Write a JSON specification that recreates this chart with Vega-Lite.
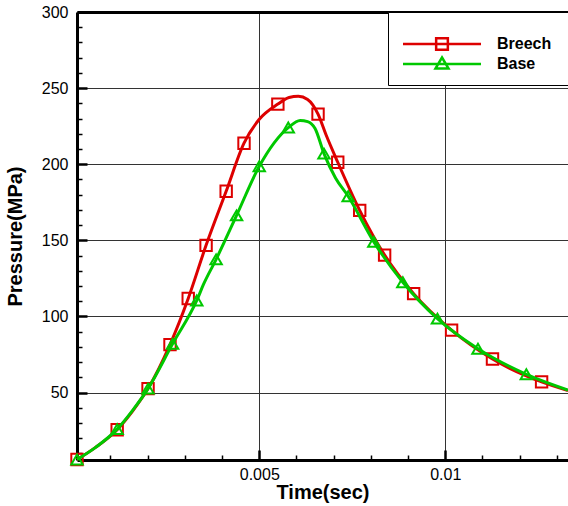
{
  "$schema": "https://vega.github.io/schema/vega-lite/v6.json",
  "width": 491,
  "height": 448,
  "autosize": {"type": "none"},
  "padding": {"left": 77, "top": 12, "right": 0, "bottom": 46},
  "background": "white",
  "config": {"view": {"stroke": null}, "font": "Liberation Sans"},
  "datasets": {
    "curves": [
      {"series": "Breech", "t": 0.0001, "P": 6},
      {"series": "Breech", "t": 0.0006, "P": 14},
      {"series": "Breech", "t": 0.00118, "P": 25.6},
      {"series": "Breech", "t": 0.0016, "P": 38},
      {"series": "Breech", "t": 0.00201, "P": 52.6},
      {"series": "Breech", "t": 0.0026, "P": 81.5},
      {"series": "Breech", "t": 0.00309, "P": 111.8},
      {"series": "Breech", "t": 0.00357, "P": 146.7},
      {"series": "Breech", "t": 0.00411, "P": 182.2},
      {"series": "Breech", "t": 0.00459, "P": 213.8},
      {"series": "Breech", "t": 0.005, "P": 229.5},
      {"series": "Breech", "t": 0.0055, "P": 239.5},
      {"series": "Breech", "t": 0.0058, "P": 243.8},
      {"series": "Breech", "t": 0.00605, "P": 244.6},
      {"series": "Breech", "t": 0.0063, "P": 242.5},
      {"series": "Breech", "t": 0.00658, "P": 232.9},
      {"series": "Breech", "t": 0.0068, "P": 219},
      {"series": "Breech", "t": 0.00711, "P": 201.3},
      {"series": "Breech", "t": 0.0077, "P": 169.7},
      {"series": "Breech", "t": 0.00837, "P": 140.3},
      {"series": "Breech", "t": 0.00915, "P": 115},
      {"series": "Breech", "t": 0.01017, "P": 91},
      {"series": "Breech", "t": 0.01127, "P": 72},
      {"series": "Breech", "t": 0.01259, "P": 57},
      {"series": "Breech", "t": 0.0133, "P": 51.3},
      {"series": "Base", "t": 0.0001, "P": 6},
      {"series": "Base", "t": 0.0006, "P": 14},
      {"series": "Base", "t": 0.00118, "P": 26},
      {"series": "Base", "t": 0.0016, "P": 38.5},
      {"series": "Base", "t": 0.00201, "P": 52.6},
      {"series": "Base", "t": 0.00267, "P": 82},
      {"series": "Base", "t": 0.00332, "P": 110.5},
      {"series": "Base", "t": 0.0035, "P": 121},
      {"series": "Base", "t": 0.00384, "P": 137.5},
      {"series": "Base", "t": 0.00439, "P": 166.4},
      {"series": "Base", "t": 0.005, "P": 198.7},
      {"series": "Base", "t": 0.00578, "P": 224.1},
      {"series": "Base", "t": 0.0061, "P": 228.8},
      {"series": "Base", "t": 0.0063, "P": 228},
      {"series": "Base", "t": 0.0065, "P": 223.5},
      {"series": "Base", "t": 0.00674, "P": 207},
      {"series": "Base", "t": 0.00705, "P": 191},
      {"series": "Base", "t": 0.00739, "P": 179},
      {"series": "Base", "t": 0.00808, "P": 149},
      {"series": "Base", "t": 0.00886, "P": 122.5},
      {"series": "Base", "t": 0.00979, "P": 98.6},
      {"series": "Base", "t": 0.01088, "P": 78.8},
      {"series": "Base", "t": 0.01218, "P": 62},
      {"series": "Base", "t": 0.0133, "P": 51.7}
    ],
    "markers": [
      {"series": "Breech", "t": 0.0001, "P": 6},
      {"series": "Breech", "t": 0.00118, "P": 25.6},
      {"series": "Breech", "t": 0.00201, "P": 52.6},
      {"series": "Breech", "t": 0.0026, "P": 81.5},
      {"series": "Breech", "t": 0.00309, "P": 111.8},
      {"series": "Breech", "t": 0.00357, "P": 146.7},
      {"series": "Breech", "t": 0.00411, "P": 182.2},
      {"series": "Breech", "t": 0.00459, "P": 213.8},
      {"series": "Breech", "t": 0.0055, "P": 239.5},
      {"series": "Breech", "t": 0.00658, "P": 232.9},
      {"series": "Breech", "t": 0.00711, "P": 201.3},
      {"series": "Breech", "t": 0.0077, "P": 169.7},
      {"series": "Breech", "t": 0.00837, "P": 140.3},
      {"series": "Breech", "t": 0.00915, "P": 115},
      {"series": "Breech", "t": 0.01017, "P": 91},
      {"series": "Breech", "t": 0.01127, "P": 72},
      {"series": "Breech", "t": 0.01259, "P": 57},
      {"series": "Base", "t": 0.0001, "P": 6},
      {"series": "Base", "t": 0.00118, "P": 26},
      {"series": "Base", "t": 0.00201, "P": 52.6},
      {"series": "Base", "t": 0.00267, "P": 82},
      {"series": "Base", "t": 0.00332, "P": 110.5},
      {"series": "Base", "t": 0.00384, "P": 137.5},
      {"series": "Base", "t": 0.00439, "P": 166.4},
      {"series": "Base", "t": 0.005, "P": 198.7},
      {"series": "Base", "t": 0.00578, "P": 224.1},
      {"series": "Base", "t": 0.00674, "P": 207},
      {"series": "Base", "t": 0.00739, "P": 179},
      {"series": "Base", "t": 0.00808, "P": 149},
      {"series": "Base", "t": 0.00886, "P": 122.5},
      {"series": "Base", "t": 0.00979, "P": 98.6},
      {"series": "Base", "t": 0.01088, "P": 78.8},
      {"series": "Base", "t": 0.01218, "P": 62}
    ]
  },
  "resolve": {"axis": {"x": "independent", "y": "independent"}},
  "layer": [
    {
      "data": {"name": "curves"},
      "transform": [{"filter": "datum.series === 'Breech'"}],
      "mark": {"type": "line", "interpolate": "monotone", "strokeWidth": 3},
      "encoding": {
        "x": {
          "field": "t", "type": "quantitative",
          "scale": {"domain": [0.0001, 0.0133], "nice": false, "zero": false},
          "axis": {
            "orient": "bottom", "values": [0.005, 0.01], "format": ".3~f",
            "title": "Time(sec)", "titleFont": "Liberation Sans", "titleFontSize": 20, "titleFontWeight": "bold", "titleColor": "black", "titlePadding": 0,
            "labelFont": "Liberation Sans", "labelFontSize": 16, "labelColor": "black", "labelPadding": 16,
            "tickSize": -10, "tickWidth": 2.5, "tickColor": "black",
            "domainColor": "black", "domainWidth": 3,
            "grid": true, "gridColor": "#333333", "gridWidth": 1
          }
        },
        "y": {
          "field": "P", "type": "quantitative",
          "scale": {"domain": [5.7, 300], "nice": false, "zero": false},
          "axis": {
            "orient": "left", "values": [50, 100, 150, 200, 250, 300],
            "title": "Pressure(MPa)", "titleFont": "Liberation Sans", "titleFontSize": 20, "titleFontWeight": "bold", "titleColor": "black", "titlePadding": 16,
            "labelFont": "Liberation Sans", "labelFontSize": 16, "labelColor": "black", "labelPadding": 19,
            "tickSize": -10, "tickWidth": 2.5, "tickColor": "black",
            "domainColor": "black", "domainWidth": 3,
            "grid": true, "gridColor": "#333333", "gridWidth": 1
          }
        },
        "color": {
          "field": "series", "type": "nominal",
          "scale": {"domain": ["Breech", "Base"], "range": ["#dd0000", "#00c800"]},
          "legend": {
            "orient": "none", "legendX": 311, "legendY": 0,
            "title": " ", "titleFontSize": 6, "titlePadding": 7,
            "strokeColor": "black", "fillColor": "white", "padding": 11,
            "labelFont": "Liberation Sans", "labelFontSize": 16, "labelFontWeight": "bold", "labelColor": "black",
            "labelExpr": "datum.label + '\u2800'",
            "labelLimit": 300,
            "symbolSize": 169, "symbolStrokeWidth": 2.5, "symbolOffset": 35, "labelOffset": 47, "rowPadding": -3,
            "symbolType": "M-6,0H6M-0.9,-0.9H0.9V0.9H-0.9Z",
            "encode": {
              "symbols": {
                "update": {
                  "shape": {"signal": "datum.value === 'Breech' ? 'M-6,0H6M-0.9,-0.9H0.9V0.9H-0.9Z' : 'M-6,0H6M0,-1L1,0.7H-1Z'"},
                  "fill": {"value": "transparent"}
                }
              }
            }
          }
        }
      }
    },
    {
      "data": {"name": "markers"},
      "transform": [{"filter": "datum.series === 'Breech'"}],
      "mark": {"type": "point", "shape": "square", "filled": false, "stroke": "#dd0000", "strokeWidth": 2, "size": 130, "opacity": 1},
      "encoding": {
        "x": {
          "field": "t", "type": "quantitative",
          "axis": {
            "orient": "bottom", "values": [0.001, 0.002, 0.003, 0.004, 0.006, 0.007, 0.008, 0.009, 0.011, 0.012, 0.013],
            "labels": false, "title": null, "domain": false, "grid": false,
            "tickSize": -5, "tickWidth": 1.5, "tickColor": "black"
          }
        },
        "y": {
          "field": "P", "type": "quantitative",
          "axis": {
            "orient": "left", "values": [10, 20, 30, 40, 60, 70, 80, 90, 110, 120, 130, 140, 160, 170, 180, 190, 210, 220, 230, 240, 260, 270, 280, 290],
            "labels": false, "title": null, "domain": false, "grid": false,
            "tickSize": -5, "tickWidth": 1.5, "tickColor": "black"
          }
        }
      }
    },
    {
      "data": {"name": "curves"},
      "transform": [{"filter": "datum.series === 'Base'"}],
      "mark": {"type": "line", "interpolate": "monotone", "strokeWidth": 3},
      "encoding": {
        "x": {
          "field": "t", "type": "quantitative",
          "axis": {
            "orient": "top", "values": [], "labels": false, "ticks": false, "title": null, "grid": false,
            "domainColor": "black", "domainWidth": 3
          }
        },
        "y": {"field": "P", "type": "quantitative", "axis": null},
        "color": {"field": "series", "type": "nominal"}
      }
    },
    {
      "data": {"name": "markers"},
      "transform": [{"filter": "datum.series === 'Base'"}],
      "mark": {"type": "point", "shape": "triangle-up", "filled": false, "stroke": "#00c800", "strokeWidth": 2, "size": 130, "opacity": 1},
      "encoding": {
        "x": {"field": "t", "type": "quantitative", "axis": null},
        "y": {"field": "P", "type": "quantitative", "axis": null}
      }
    }
  ]
}
